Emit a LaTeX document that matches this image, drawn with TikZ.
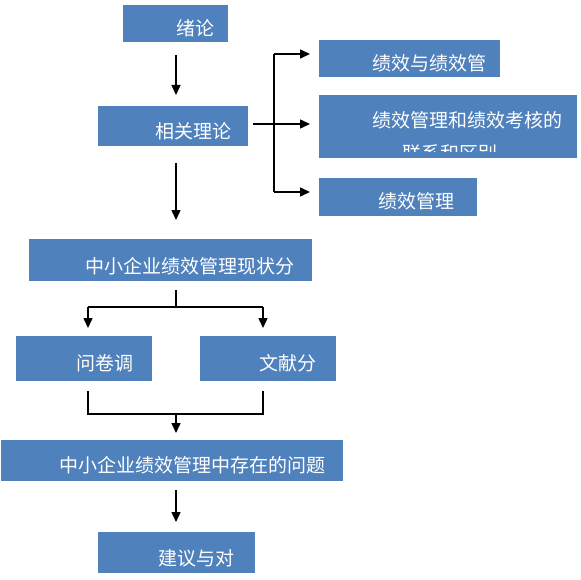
\documentclass[tikz,border=0pt]{standalone}
\usepackage{fontspec}
\newfontfamily\cjk{Noto Sans CJK SC}
\usetikzlibrary{arrows.meta}
\definecolor{boxblue}{HTML}{4F81BD}
\begin{document}
\begin{tikzpicture}[x=1pt,y=-1pt,
 box/.style={fill=boxblue,draw=none,inner sep=0pt},
 lbl/.style={text=white,font=\cjk\fontsize{19}{21}\selectfont,anchor=west,inner sep=0pt},
 conn/.style={line width=1.5pt,draw=black},
 arr/.style={conn,-{Triangle[width=9pt,length=10pt]}}]
\useasboundingbox (0,0) rectangle (580,580);
\fill[white] (0,0) rectangle (580,580);
% boxes
\node[box,minimum width=105pt,minimum height=37pt] (b1) at (175.5,23.5) {};
\node[box,minimum width=150pt,minimum height=40pt] (b2) at (173,126) {};
\node[box,minimum width=181pt,minimum height=37pt] (r1) at (409.5,58.5) {};
\node[box,minimum width=258pt,minimum height=63pt] (r2) at (448,126.5) {};
\node[box,minimum width=158pt,minimum height=38pt] (r3) at (398,197) {};
\node[box,minimum width=283pt,minimum height=42pt] (b3) at (170.5,260) {};
\node[box,minimum width=136pt,minimum height=45pt] (q1) at (84,358.5) {};
\node[box,minimum width=136pt,minimum height=45pt] (q2) at (268,358.5) {};
\node[box,minimum width=342pt,minimum height=41pt] (b4) at (172,460.5) {};
\node[box,minimum width=157pt,minimum height=41pt] (b5) at (176.5,552.5) {};
% labels
\node[lbl] (t1) at (176,28) {绪论};
\node[lbl] (t2) at (155,131) {相关理论};
\node[lbl] (t3) at (372,63) {绩效与绩效管};
\node[lbl] (t4) at (372,120) {绩效管理和绩效考核的};
\begin{scope}
\clip (319,95) rectangle (577,152);
\node[lbl] (t5) at (402,153) {联系和区别};
\end{scope}
\node[lbl] (t6) at (378,201) {绩效管理};
\node[lbl] (t7) at (85,266) {中小企业绩效管理现状分};
\node[lbl] (t8) at (76,363) {问卷调};
\node[lbl] (t9) at (259,363) {文献分};
\node[lbl] (t10) at (59,465) {中小企业绩效管理中存在的问题};
\node[lbl] (t11) at (158,558) {建议与对};
% connector points
\coordinate (a1s) at (176,55); \coordinate (a1e) at (176,95);
\coordinate (a2s) at (176,163); \coordinate (a2e) at (176,220);
\coordinate (bs) at (253,124); \coordinate (bm) at (274,124);
\coordinate (bt) at (274,54); \coordinate (bb) at (274,192);
\coordinate (bte) at (310,54); \coordinate (bme) at (310,124); \coordinate (bbe) at (310,192);
\coordinate (ss) at (176,290); \coordinate (sm) at (176,307);
\coordinate (sl) at (88,307); \coordinate (sr) at (263,307);
\coordinate (sle) at (88,328); \coordinate (sre) at (263,328);
\coordinate (ml) at (88,391); \coordinate (mr) at (263,391);
\coordinate (mlb) at (88,414); \coordinate (mrb) at (263,414);
\coordinate (mm) at (176,414); \coordinate (mme) at (176,433);
\coordinate (a3s) at (176,490); \coordinate (a3e) at (176,522);
% connectors
\draw[arr] (a1s) -- (a1e);
\draw[arr] (a2s) -- (a2e);
\draw[arr] (bs) -- (bme);
\draw[conn] (bt) -- (bb);
\draw[arr] (bt) -- (bte);
\draw[arr] (bb) -- (bbe);
\draw[conn] (ss) -- (sm);
\draw[conn] (sl) -- (sr);
\draw[arr] (sl) -- (sle);
\draw[arr] (sr) -- (sre);
\draw[conn] (ml) -- (mlb) -- (mrb) -- (mr);
\draw[arr] (mm) -- (mme);
\draw[arr] (a3s) -- (a3e);
\end{tikzpicture}
\end{document}
